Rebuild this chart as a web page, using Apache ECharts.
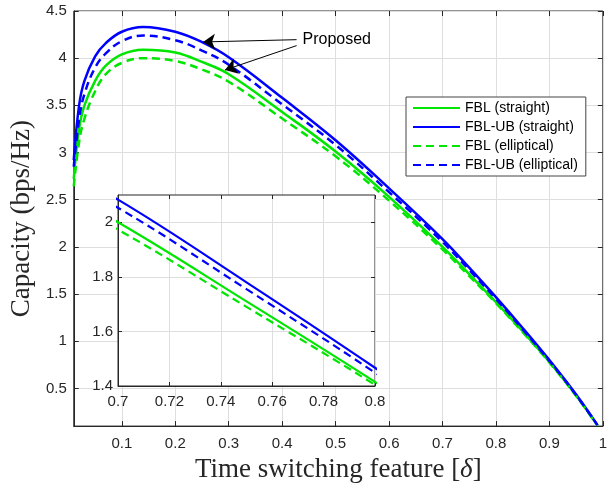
<!DOCTYPE html>
<html>
<head>
<meta charset="utf-8">
<script src="https://cdn.jsdelivr.net/npm/echarts@6/dist/echarts.min.js"></script>
<style>html,body{margin:0;background:#fff}#chart{width:610px;height:488px}</style>
</head>
<body>
<div id="chart"></div>
<script>
// time switching feature (x) and capacity curves
var delta = [0.01, 0.02, 0.03, 0.05, 0.07, 0.1, 0.14, 0.2, 0.25, 0.3, 0.4, 0.5, 0.6, 0.7, 0.75, 0.8, 0.85, 0.9, 0.95, 0.99];
var fblStraight     = [2.72, 3.25, 3.50, 3.76, 3.92, 4.04, 4.09, 4.06, 3.96, 3.83, 3.43, 3.01, 2.53, 2.000, 1.71, 1.415, 1.105, 0.78, 0.425, 0.105];
var fblUbStraight   = [2.92, 3.50, 3.76, 4.02, 4.16, 4.28, 4.33, 4.28, 4.17, 4.01, 3.58, 3.13, 2.62, 2.083, 1.78, 1.467, 1.14, 0.80, 0.435, 0.11];
var fblElliptical   = [2.64, 3.11, 3.36, 3.65, 3.83, 3.95, 4.00, 3.97, 3.88, 3.75, 3.36, 2.96, 2.49, 1.973, 1.69, 1.404, 1.095, 0.775, 0.42, 0.105];
var fblUbElliptical = [2.85, 3.35, 3.62, 3.90, 4.05, 4.18, 4.24, 4.19, 4.08, 3.93, 3.51, 3.08, 2.58, 2.053, 1.755, 1.449, 1.125, 0.79, 0.43, 0.11];

var names = ['FBL (straight)', 'FBL-UB (straight)', 'FBL (elliptical)', 'FBL-UB (elliptical)'];
var xTicks = [0.1, 0.2, 0.3, 0.4, 0.5, 0.6, 0.7, 0.8, 0.9, 1];
var yTicks = [0.5, 1, 1.5, 2, 2.5, 3, 3.5, 4, 4.5];
var insetXTicks = [0.7, 0.72, 0.74, 0.76, 0.78, 0.8];
var insetYTicks = [1.4, 1.6, 1.8, 2];

// annotation arrows: [from, to] in data coords
var arrows = [
  [[0.427, 4.196], [0.252, 4.172]],
  [[0.427, 4.133], [0.293, 3.875]]
];
var noteAt = [0.438, 4.186];

var GREEN = '#00e600', BLUE = '#0000ff', AX = '#262626';
var sans = 'Liberation Sans', serif = 'Liberation Serif';

function pairs(ys) {
  return delta.map(function (x, i) { return [x, ys[i]]; });
}

function axis(grid, pos, min, max, ticks, main, extra) {
  var a = {
    type: 'value', gridIndex: grid, position: pos, min: min, max: max,
    axisLine: {show: main, lineStyle: {color: AX, width: 1}},
    axisTick: {show: true, inside: true, length: grid ? 4 : 5, customValues: ticks, lineStyle: {color: AX}},
    axisLabel: {show: main, customValues: ticks, color: AX, fontFamily: sans, fontSize: 15,
      margin: pos == 'bottom' ? (grid ? 8 : 10) : (grid ? 5 : 7)},
    splitLine: {show: main, lineStyle: {color: '#dedede', width: 1}}
  };
  if (grid) a.z = 11;
  for (var k in extra) a[k] = extra[k];
  return a;
}

var styles = [
  {color: GREEN, type: 'solid'},
  {color: BLUE, type: 'solid'},
  {color: GREEN, type: [8, 5]},
  {color: BLUE, type: [8, 5]}
];
var values = [fblStraight, fblUbStraight, fblElliptical, fblUbElliptical];

var series = [];
values.forEach(function (ys, i) {
  var s = {
    name: names[i], type: 'line', xAxisIndex: 0, yAxisIndex: 0,
    data: pairs(ys), symbol: 'none', smooth: 0.4,
    lineStyle: {color: styles[i].color, type: styles[i].type, width: 2.5},
    itemStyle: {color: styles[i].color}
  };
  if (i == 1) {
    s.markLine = {
      silent: true, symbol: ['none', 'arrow'], symbolSize: 12,
      lineStyle: {color: '#000', width: 1, type: 'solid'},
      label: {show: false},
      data: arrows.map(function (a) { return [{coord: a[0]}, {coord: a[1]}]; })
    };
  }
  series.push(s);
});
values.forEach(function (ys, i) {
  series.push({
    name: names[i], type: 'line', xAxisIndex: 2, yAxisIndex: 2, z: 12,
    data: pairs(ys), symbol: 'none', smooth: 0.4, clip: true,
    lineStyle: {color: styles[i].color, type: styles[i].type, width: 2.2},
    itemStyle: {color: styles[i].color}
  });
});

var chart = echarts.init(document.getElementById('chart'));
chart.setOption({
  animation: false,
  backgroundColor: '#fff',
  grid: [
    {left: 70, top: 11, right: 2, bottom: 57, show: true, borderColor: AX, borderWidth: 1, backgroundColor: '#fff'},
    {left: 118, top: 195, width: 257, height: 191, show: true, borderColor: AX, borderWidth: 1, backgroundColor: '#fff', z: 10}
  ],
  xAxis: [
    axis(0, 'bottom', 0.01, 1, xTicks, true, {
      name: 'Time switching feature [{i|δ}]', nameLocation: 'middle', nameGap: 28,
      nameTextStyle: {fontFamily: serif, fontSize: 27, color: AX, rich: {i: {fontFamily: serif, fontSize: 27, fontStyle: 'italic', color: AX}}}
    }),
    axis(0, 'top', 0.01, 1, xTicks, false),
    axis(1, 'bottom', 0.7, 0.8, insetXTicks, true),
    axis(1, 'top', 0.7, 0.8, insetXTicks, false)
  ],
  yAxis: [
    axis(0, 'left', 0.1, 4.5, yTicks, true, {
      name: 'Capacity (bps/Hz)', nameLocation: 'middle', nameGap: 36,
      nameTextStyle: {fontFamily: serif, fontSize: 27, color: AX}
    }),
    axis(0, 'right', 0.1, 4.5, yTicks, false),
    axis(1, 'left', 1.4, 2.1, insetYTicks, true),
    axis(1, 'right', 1.4, 2.1, insetYTicks, false)
  ],
  legend: {
    data: names, orient: 'vertical', left: 406, top: 97,
    padding: [4, 8, 4, 6], itemGap: 5, itemWidth: 47, itemHeight: 15,
    itemStyle: {opacity: 0},
    backgroundColor: '#fff', borderColor: '#444', borderWidth: 1, borderRadius: 0,
    textStyle: {fontFamily: sans, fontSize: 14, color: '#000'}
  },
  series: series
});

var p = chart.convertToPixel({xAxisIndex: 0, yAxisIndex: 0}, noteAt);
chart.setOption({
  graphic: [{
    type: 'text', left: p[0], top: p[1] - 9,
    style: {text: 'Proposed', fontFamily: sans, fontSize: 16, fill: '#000'}
  }]
});
</script>
</body>
</html>
